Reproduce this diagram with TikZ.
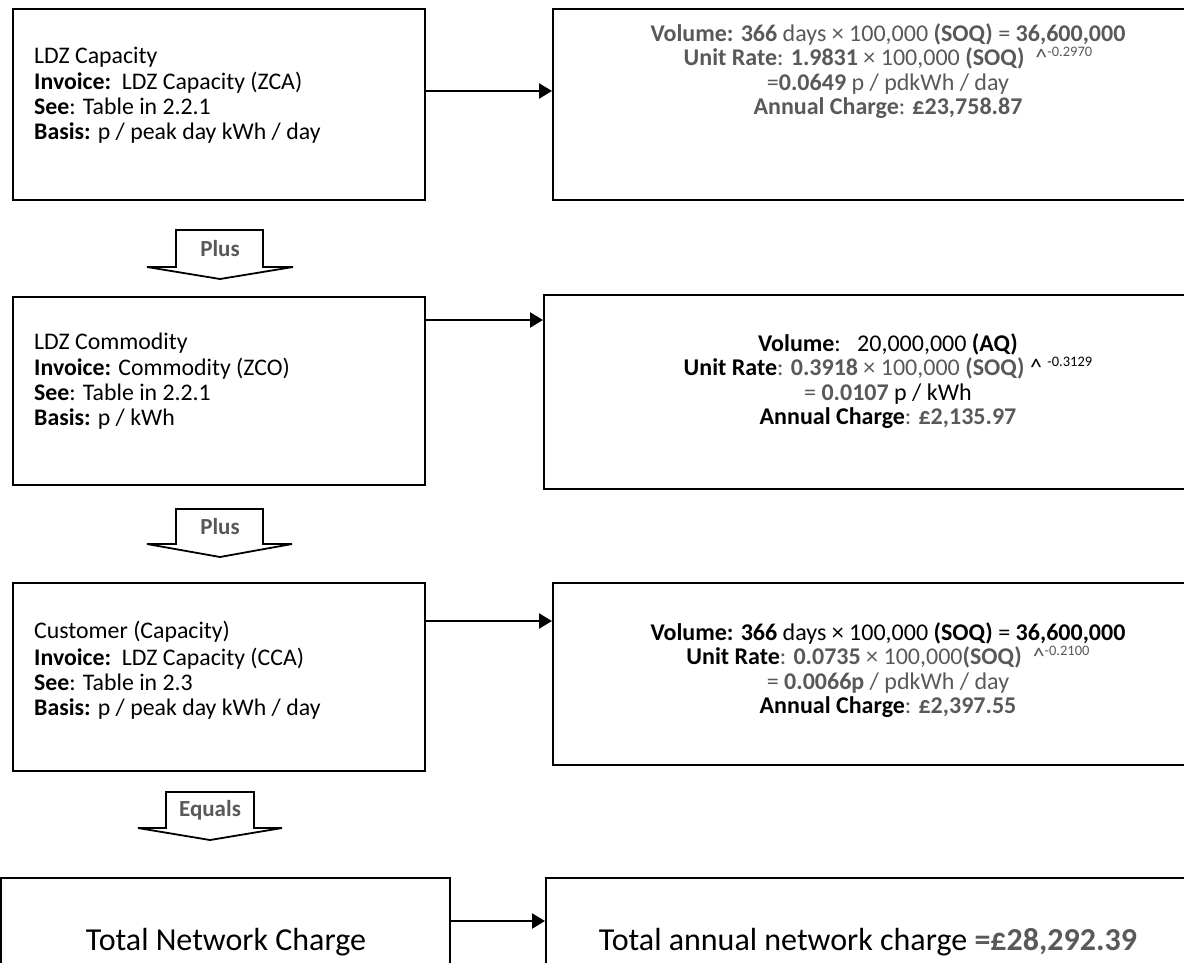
\documentclass[tikz,border=0pt]{standalone}
\usepackage{fontspec}
\setmainfont{Carlito}
\usetikzlibrary{arrows.meta,calc}
\definecolor{tgray}{RGB}{89,89,89}
\newcommand{\expo}[1]{\raisebox{0.36em}{\fontsize{14.5}{14.5}\selectfont #1}}
\begin{document}
\begin{tikzpicture}[x=1pt,y=-1pt,
  box/.style={draw,line width=1.6pt,inner sep=0pt,anchor=north west},
  conn/.style={line width=2.4pt,-{Triangle[length=13pt,width=15pt]}},
  blockarrow/.style={draw,line width=1.8pt,fill=white,line join=miter},
  blabel/.style={font=\fontsize{23}{26}\selectfont\bfseries,text=tgray,inner sep=0pt},
  lefttext/.style={anchor=west,align=left,inner sep=0pt,font=\fontsize{23.8}{25}\selectfont},
  righttext/.style={anchor=center,align=center,inner sep=0pt,font=\fontsize{24}{24.5}\selectfont},
  bigtext/.style={anchor=center,inner sep=0pt,font=\fontsize{32}{36}\selectfont}
]
\useasboundingbox (0,0) rectangle (1184,962);
\clip (0,0) rectangle (1184,962);

% boxes
\node[box,minimum width=412pt,minimum height=191pt] (b1l) at (12,8) {};
\node[box,minimum width=680pt,minimum height=191pt] (b1r) at (552,8) {};
\node[box,minimum width=412pt,minimum height=188pt] (b2l) at (12,296) {};
\node[box,minimum width=680pt,minimum height=194pt] (b2r) at (543,294) {};
\node[box,minimum width=412pt,minimum height=188pt] (b3l) at (12,582) {};
\node[box,minimum width=680pt,minimum height=182pt] (b3r) at (552,582) {};
\node[box,minimum width=449pt,minimum height=120pt] (b4l) at (0,877) {};
\node[box,minimum width=680pt,minimum height=120pt] (b4r) at (545,877) {};

% left texts
\node[lefttext] (t1l) at (34,95) {LDZ Capacity\\[1.5pt]
  \textbf{Invoice:}\ \ LDZ Capacity (ZCA)\\
  \textbf{See}: Table in 2.2.1\\
  \textbf{Basis:} p / peak day kWh / day};
\node[lefttext] (t2l) at (34,381) {LDZ Commodity\\[1.5pt]
  \textbf{Invoice:} Commodity (ZCO)\\
  \textbf{See}: Table in 2.2.1\\
  \textbf{Basis:} p / kWh};
\node[lefttext] (t3l) at (34,670) {Customer (Capacity)\\[1.5pt]
  \textbf{Invoice:}\ \ LDZ Capacity (CCA)\\
  \textbf{See}: Table in 2.3\\
  \textbf{Basis:} p / peak day kWh / day};

% right texts
\node[righttext,text=tgray] (t1r) at (888,71) {%
  \textbf{Volume: 366} days × 100,000 \textbf{(SOQ)} = \textbf{36,600,000}\\
  \textbf{Unit Rate}: \textbf{1.9831} × 100,000 \textbf{(SOQ)}\ \ \textasciicircum\expo{-0.2970}\\
  =\textbf{0.0649} p / pdkWh / day\\
  \textbf{Annual Charge}: \textbf{£23,758.87}};
\node[righttext] (t2r) at (888,381) {%
  \textbf{Volume}:\ \ \ 20,000,000 \textbf{(AQ)}\\
  \textbf{Unit Rate}{\color{tgray}: \textbf{0.3918} × 100,000 \textbf{(SOQ)}} \textasciicircum\ \expo{-0.3129}\\
  {\color{tgray}= \textbf{0.0107}} p / kWh\\
  \textbf{Annual Charge}{\color{tgray}: \textbf{£2,135.97}}};
\node[righttext] (t3r) at (888,670) {%
  \textbf{Volume: 366} days × 100,000 \textbf{(SOQ)} = \textbf{36,600,000}\\
  \textbf{Unit Rate}{\color{tgray}: \textbf{0.0735} × 100,000\textbf{(SOQ)}\ \ \textasciicircum\expo{-0.2100}}\\
  {\color{tgray}= \textbf{0.0066p} / pdkWh / day}\\
  \textbf{Annual Charge}{\color{tgray}: \textbf{£2,397.55}}};
\node[bigtext] (t4l) at (226,942) {Total Network Charge};
\node[bigtext] (t4r) at (868,942) {Total annual network charge {\color{tgray}\textbf{=£28,292.39}}};

% connectors
\coordinate (y1) at (0,91);
\coordinate (y2) at (0,320);
\coordinate (y3) at (0,621);
\coordinate (y4) at (0,921);
\draw[conn] (b1l.east |- y1) -- (b1r.west |- y1);
\draw[conn] (b2l.east |- y2) -- (b2r.west |- y2);
\draw[conn] (b3l.east |- y3) -- (b3r.west |- y3);
\draw[conn] (b4l.east |- y4) -- (b4r.west |- y4);

% block arrows
\draw[blockarrow] (176,267) -- (176,230) -- (263,230) -- (263,267) -- (293,267) -- (220,279) -- (147,267) -- cycle;
\node[blabel] (p1) at (220,249) {Plus};
\draw[blockarrow] (176,544) -- (176,509) -- (263,509) -- (263,544) -- (292,544) -- (220,557) -- (147,544) -- cycle;
\node[blabel] (p2) at (220,527) {Plus};
\draw[blockarrow] (166,828) -- (166,792) -- (254,792) -- (254,828) -- (282,828) -- (210,840) -- (138,828) -- cycle;
\node[blabel] (p3) at (210,810) {Equals};
\end{tikzpicture}
\end{document}
